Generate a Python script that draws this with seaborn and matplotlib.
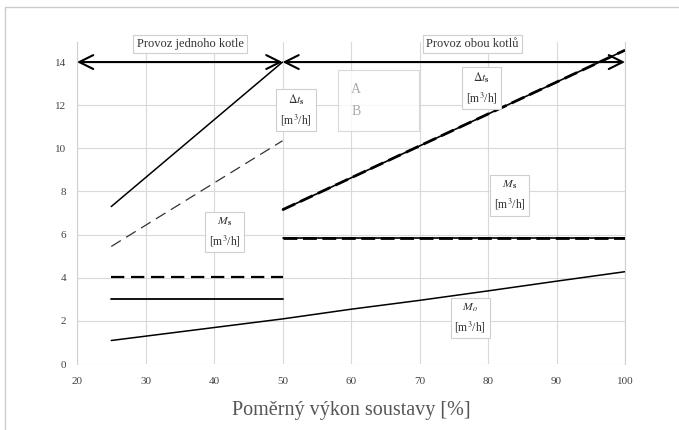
import matplotlib
matplotlib.use("Agg")
import matplotlib.pyplot as plt
import seaborn as sns
import pandas as pd
from matplotlib.lines import Line2D
from matplotlib import transforms

# ---- data ----
x_single = [25, 50]
dt_A_single = [7.3, 14.0]
dt_B_single = [5.45, 10.35]
ms_A_single = [3.0, 3.0]
ms_B_single = [4.05, 4.05]

x_double = [50, 100]
dt_A_double = [7.15, 14.55]
dt_B_double = [7.15, 14.55]
ms_A_double = [5.85, 5.85]
ms_B_double = [5.85, 5.85]

x_mo = [25, 50, 60, 70, 80, 90, 100]
mo = [1.09, 2.09, 2.54, 2.95, 3.39, 3.84, 4.28]

x_ticks = [20, 30, 40, 50, 60, 70, 80, 90, 100]
y_ticks = [0, 2, 4, 6, 8, 10, 12, 14]

region_labels = ["Provoz jednoho kotle", "Provoz obou kotlů"]
legend_labels = ["A", "B"]
x_label = "Poměrný výkon soustavy [%]"

# ---- style ----
sns.set_theme(style="whitegrid")
plt.rcParams["font.family"] = ["Liberation Serif", "DejaVu Serif"]
plt.rcParams["mathtext.fontset"] = "stix"

fig = plt.figure(figsize=(6.79, 4.30), dpi=100)
W, H = 679, 430
ax = fig.add_axes([77 / W, 1 - 364 / H, (625 - 77) / W, (364 - 42) / H])
ax.set_facecolor("white")

def draw(x, y, **kw):
    df = pd.DataFrame({"x": x, "y": y})
    sns.lineplot(data=df, x="x", y="y", ax=ax, estimator=None, sort=False, **kw)

# single-boiler region
draw(x_single, dt_A_single, color="black", lw=1.1)
draw(x_single, dt_B_single, color="#333333", lw=0.9, dashes=(9, 5))
draw(x_single, ms_B_single, color="black", lw=1.6, dashes=(6, 3))
draw(x_single, ms_A_single, color="black", lw=1.3)
# two-boiler region
draw(x_double, dt_A_double, color="black", lw=1.2)
draw(x_double, dt_B_double, color="black", lw=2.0, dashes=(5, 2))
draw(x_double, ms_A_double, color="black", lw=1.2)
draw(x_double, ms_B_double, color="black", lw=2.0, dashes=(5, 2))
# M_o
draw(x_mo, mo, color="black", lw=1.1)

ax.set_xlim(20, 100)
ax.set_ylim(0, 14.93)
ax.set_xticks(x_ticks)
ax.set_yticks(y_ticks)
ax.set_xticklabels([str(v) for v in x_ticks])
ax.set_yticklabels([str(v) for v in y_ticks])
ax.tick_params(axis="both", length=0, labelsize=8, colors="#444444")
ax.tick_params(axis="x", pad=9)
ax.tick_params(axis="y", pad=8)
ax.grid(True, color="#d9d9d9", lw=0.8)
for s in ["left", "right", "top"]:
    ax.spines[s].set_color("#d0d0d0")
    ax.spines[s].set_linewidth(0.8)
ax.spines["bottom"].set_visible(False)
ax.spines["top"].set_visible(False)
ax.set_ylabel("")
ax.set_xlabel(x_label, fontsize=14.5, color="#555555", labelpad=11)

# region arrows
arrow_kw = dict(arrowstyle="<->,head_length=0.5,head_width=0.25", lw=1.5,
                color="black", mutation_scale=20, shrinkA=0, shrinkB=0)
ax.annotate("", xy=(20, 14), xytext=(50, 14), arrowprops=arrow_kw, annotation_clip=False)
ax.annotate("", xy=(50, 14), xytext=(100, 14), arrowprops=arrow_kw, annotation_clip=False)

trans = transforms.blended_transform_factory(ax.transData, ax.transAxes)
box = dict(boxstyle="square,pad=0.25", fc="white", ec="#cfcfcf", lw=0.8)
ax.text(36.5, 0.994, region_labels[0], transform=trans, ha="center", va="center",
        fontsize=9, color="#333333", bbox=box, clip_on=False)
ax.text(77.7, 0.994, region_labels[1], transform=trans, ha="center", va="center",
        fontsize=9, color="#333333", bbox=box, clip_on=False)

# curve labels
unit = "[m$^3$/h]"
lab_kw = dict(ha="center", va="center", fontsize=8.5, color="#333333",
              bbox=dict(boxstyle="square,pad=0.3", fc="white", ec="#cfcfcf", lw=0.8),
              linespacing=1.5)
ax.text(51.97, 11.78, r"$\Delta t_{\mathbf{s}}$" + "\n" + unit, **lab_kw)
ax.text(79.1, 12.8, r"$\Delta t_{\mathbf{s}}$" + "\n" + unit, **lab_kw)
ax.text(41.6, 6.12, r"$M_{\mathbf{s}}$" + "\n" + unit, **lab_kw)
ax.text(83.2, 7.83, r"$M_{\mathbf{s}}$" + "\n" + unit, **lab_kw)
ax.text(77.4, 2.13, r"$M_{o}$" + "\n" + unit, **lab_kw)

# legend A / B (keys faded out as in the reference)
handles = [Line2D([], [], color="white", alpha=0.0, lw=1.0),
           Line2D([], [], color="white", alpha=0.0, lw=1.0, dashes=(4, 3))]
leg = ax.legend(handles, legend_labels, loc="upper left",
                bbox_to_anchor=((338 - 77) / 548, (364 - 70) / 322),
                markerfirst=False, handlelength=3.0, handletextpad=0.2,
                fontsize=10, labelcolor="#aaaaaa", frameon=True, fancybox=False,
                borderpad=0.95, borderaxespad=0, labelspacing=0.6, alignment="left")
leg.get_frame().set_edgecolor("#d0d0d0")
leg.get_frame().set_linewidth(0.8)

# outer chart frame (cropped at the right and bottom)
fig.add_artist(Line2D([5 / W, 5 / W], [0, 1 - 7 / H], color="#cccccc", lw=1.0))
fig.add_artist(Line2D([5 / W, 1], [1 - 7 / H, 1 - 7 / H], color="#cccccc", lw=1.0))

fig.savefig("out.png", dpi=100)
